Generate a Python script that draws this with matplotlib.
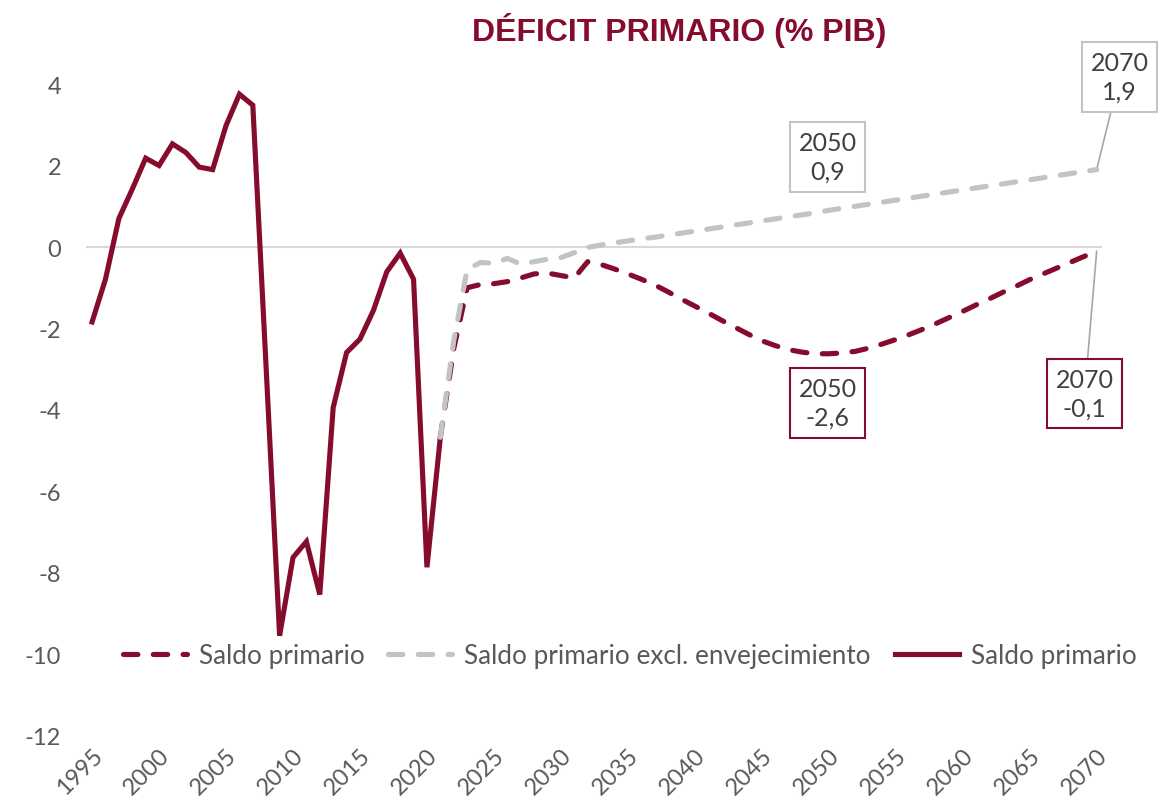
import matplotlib
matplotlib.use("Agg")
import matplotlib.pyplot as plt
import numpy as np

matplotlib.rcParams.update({
    "font.family": ["Lato", "DejaVu Sans"],
    "font.size": 16,
})

RED = "#850c2d"
GREY = "#c3c3c3"
TXT = "#595959"

# historical primary balance (% GDP)
years_hist = list(range(1995, 2022))
saldo_hist = [-1.84, -0.79, 0.70, 1.42, 2.18, 2.00, 2.53, 2.32, 1.96, 1.90,
              2.98, 3.75, 3.48, -3.00, -9.54, -7.62, -7.23, -8.53, -3.94, -2.59,
              -2.26, -1.56, -0.61, -0.15, -0.79, -7.86, -4.67]

# projections 2021-2070
years_proj = list(range(2021, 2071))
saldo_proj = [-4.67, -2.50, -1.00, -0.92, -0.90, -0.85, -0.76, -0.66, -0.64, -0.70,
              -0.76, -0.36, -0.43, -0.54, -0.66, -0.79, -0.93, -1.10, -1.28, -1.45,
              -1.62, -1.80, -1.97, -2.14, -2.30, -2.42, -2.52, -2.58, -2.62, -2.62,
              -2.60, -2.56, -2.48, -2.38, -2.27, -2.15, -2.02, -1.88, -1.73, -1.58,
              -1.42, -1.27, -1.11, -0.96, -0.80, -0.66, -0.52, -0.38, -0.24, -0.10]
saldo_excl = [-4.67, -2.30, -0.55, -0.38, -0.40, -0.28, -0.42, -0.36, -0.30, -0.26,
              -0.14, -0.01, 0.05, 0.10, 0.15, 0.20, 0.24, 0.29, 0.34, 0.39,
              0.44, 0.49, 0.54, 0.59, 0.64, 0.69, 0.74, 0.79, 0.84, 0.90,
              0.95, 1.00, 1.05, 1.10, 1.15, 1.20, 1.25, 1.30, 1.35, 1.40,
              1.45, 1.50, 1.55, 1.60, 1.65, 1.70, 1.75, 1.80, 1.85, 1.90]

xtick_years = list(range(1995, 2071, 5))
yticks = list(range(-12, 5, 2))

fig = plt.figure(figsize=(11.74, 8.12), dpi=100)
ax = fig.add_axes([0.0733, 0.0924, 0.8654, 0.8029])

dash = (2.8, 3.0)
ax.axhline(0, color="#d9d9d9", lw=1.5, zorder=1)
ax.plot(years_proj, saldo_proj, color=RED, lw=3.7, ls=(0, dash),
        dash_capstyle="round", zorder=3, label="Saldo primario")
ax.plot(years_proj, saldo_excl, color=GREY, lw=3.7, ls=(0, dash),
        dash_capstyle="round", zorder=4, label="Saldo primario excl. envejecimiento")
ax.plot(years_hist, saldo_hist, color=RED, lw=3.7, solid_joinstyle="miter",
        zorder=2, label="Saldo primario")

ax.set_xlim(1994.55, 2070.4)
ax.set_ylim(-12, 4)
ax.set_yticks(yticks)
ax.set_yticklabels([str(v) for v in yticks])
ax.set_xticks(xtick_years)
ax.set_xticklabels([str(y) for y in xtick_years], rotation=45, ha="right",
                   va="top", rotation_mode="anchor")
ax.tick_params(axis="both", length=0, colors=TXT, labelsize=17)
ax.tick_params(axis="y", pad=18)
ax.tick_params(axis="x", pad=6)
for s in ax.spines.values():
    s.set_visible(False)

leg = ax.legend(loc="center", bbox_to_anchor=(0.535, 0.123), ncol=3,
                frameon=False, fontsize=18.8, handlelength=2.45,
                handletextpad=0.46, columnspacing=0.92)
for t in leg.get_texts():
    t.set_color(TXT)

# annotation boxes
ann_font = dict(fontsize=18, color="#404040", ha="center", va="center",
                linespacing=1.3)
ax.annotate("2050\n0,9", xy=(2050, saldo_excl[years_proj.index(2050)]),
            xytext=(2049.9, 2.21), textcoords="data", annotation_clip=False,
            bbox=dict(boxstyle="square,pad=0.35", fc="white", ec=GREY, lw=1.5),
            **ann_font)
ax.annotate("2070\n1,9", xy=(2070, saldo_excl[-1]),
            xytext=(2071.7, 4.17), textcoords="data", annotation_clip=False,
            bbox=dict(boxstyle="square,pad=0.35", fc="white", ec=GREY, lw=1.5),
            arrowprops=dict(arrowstyle="-", color="#a6a6a6", lw=1.2,
                            shrinkA=0, shrinkB=0),
            **ann_font)
ax.annotate("2050\n-2,6", xy=(2050, saldo_proj[years_proj.index(2050)]),
            xytext=(2049.9, -3.83), textcoords="data", annotation_clip=False,
            bbox=dict(boxstyle="square,pad=0.35", fc="white", ec=RED, lw=1.5),
            **ann_font)
ax.annotate("2070\n-0,1", xy=(2070, saldo_proj[-1]),
            xytext=(2069.1, -3.6), textcoords="data", annotation_clip=False,
            bbox=dict(boxstyle="square,pad=0.35", fc="white", ec=RED, lw=1.5),
            arrowprops=dict(arrowstyle="-", color="#a6a6a6", lw=1.2,
                            shrinkA=0, shrinkB=0),
            **ann_font)

fig.text(679 / 1174, 1 - 30 / 812, "DÉFICIT PRIMARIO (% PIB)", ha="center",
         va="center", fontsize=23, fontweight="bold", color=RED,
         family="Liberation Sans")

fig.savefig("out.png", dpi=100)
